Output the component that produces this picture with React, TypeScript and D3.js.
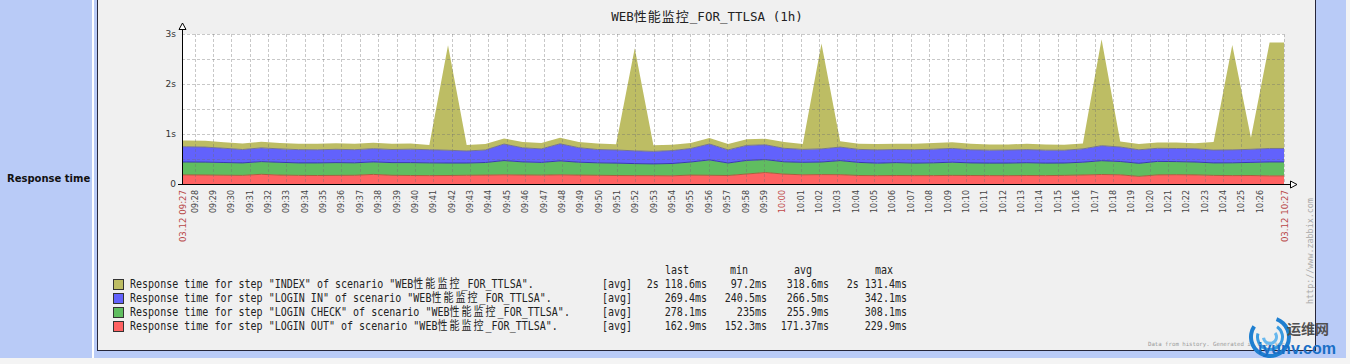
import React from 'react';
import * as d3 from 'd3';

const chartTitle = 'WEB性能监控_FOR_TTLSA (1h)';
const rowLabel = 'Response time';
const startTime = '09:27:19';
const endTime = '10:27:19';
const startLabel = '03.12 09:27';
const endLabel = '03.12 10:27';

const sampleTimes = [
  '09:27:34', '09:28:35', '09:29:36', '09:30:37', '09:31:38', '09:32:39', '09:33:40', '09:34:41', '09:35:42', '09:36:43',
  '09:37:44', '09:38:45', '09:39:46', '09:40:47', '09:41:48', '09:42:49', '09:43:50', '09:44:51', '09:45:52', '09:46:53',
  '09:47:54', '09:48:55', '09:49:56', '09:50:57', '09:51:58', '09:52:59', '09:54:00', '09:55:01', '09:56:02', '09:57:03',
  '09:58:04', '09:59:05', '10:00:06', '10:01:07', '10:02:08', '10:03:09', '10:04:10', '10:05:11', '10:06:12', '10:07:13',
  '10:08:14', '10:09:15', '10:10:16', '10:11:17', '10:12:18', '10:13:19', '10:14:20', '10:15:21', '10:16:22', '10:17:23',
  '10:18:24', '10:19:25', '10:20:26', '10:21:27', '10:22:28', '10:23:29', '10:24:30', '10:25:31', '10:26:32',
];

// milliseconds
const loginOut = [
  182, 180, 175, 172, 194, 178, 172, 170, 172, 174,
  192, 174, 170, 168, 170, 174, 178, 184, 180, 177,
  184, 178, 174, 170, 168, 167, 164, 178, 174, 170,
  200, 229.9, 198, 184, 188, 186, 170, 167, 170, 168,
  168, 172, 170, 168, 167, 170, 168, 172, 180, 190,
  184, 152.3, 182, 186, 182, 172, 168, 170, 162.9,
];
const loginCheck = [
  258, 258, 255, 250, 254, 256, 250, 252, 256, 250,
  250, 254, 258, 255, 250, 246, 252, 285, 262, 255,
  278, 258, 250, 248, 240, 235, 246, 262, 308.1, 250,
  272, 258, 246, 250, 252, 282, 262, 250, 258, 250,
  256, 264, 252, 250, 252, 256, 250, 248, 256, 276,
  266, 262, 270, 262, 258, 250, 256, 262, 278.1,
];
const loginIn = [
  305, 300, 285, 268, 274, 268, 265, 262, 266, 262,
  264, 262, 268, 262, 255, 240.5, 250, 330, 282, 270,
  342.1, 290, 266, 262, 255, 250, 258, 270, 318, 262,
  300, 296, 270, 258, 262, 270, 260, 265, 262, 268,
  272, 276, 262, 258, 260, 262, 258, 255, 266, 300,
  290, 270, 262, 262, 265, 256, 258, 262, 269.4,
];
const indexStep = [
  125, 125, 122, 120, 122, 120, 118, 122, 120, 118,
  120, 115, 112, 97.2, 2100, 122, 118, 112, 115, 118,
  120, 112, 118, 115, 2050, 122, 118, 112, 120, 118,
  122, 120, 126, 108, 2110, 115, 112, 118, 115, 120,
  122, 124, 120, 115, 112, 118, 115, 112, 110, 2131.4,
  112, 118, 115, 118, 112, 160, 2100, 230, 2118.6,
];

const stackKeys = ['out', 'check', 'in', 'index'];
const fillColors: Record<string, string> = { out: '#ff6262', check: '#60bd60', in: '#6262fc', index: '#bdbd64' };
const edgeColors: Record<string, string> = { out: '#a8603c', check: '#3a3ab0', in: '#747494', index: 'none' };

const legendKeys = ['index', 'in', 'check', 'out'];
const legendLabels = [
  'Response time for step "INDEX" of scenario "WEB性能监控_FOR_TTLSA".',
  'Response time for step "LOGIN IN" of scenario "WEB性能监控_FOR_TTLSA".',
  'Response time for step "LOGIN CHECK" of scenario "WEB性能监控_FOR_TTLSA".',
  'Response time for step "LOGIN OUT" of scenario "WEB性能监控_FOR_TTLSA".',
];
const statHeaders = ['last', 'min', 'avg', 'max'];
const lastVals = ['2s 118.6ms', '269.4ms', '278.1ms', '162.9ms'];
const minVals = ['97.2ms', '240.5ms', '235ms', '152.3ms'];
const avgVals = ['318.6ms', '266.5ms', '255.9ms', '171.37ms'];
const maxVals = ['2s 131.4ms', '342.1ms', '308.1ms', '229.9ms'];

const yTicks = [0, 1, 2, 3];
const yTickLabels = ['0', '1s', '2s', '3s'];
const yGrid = [0.5, 1, 1.5, 2, 2.5, 3];

const MONO = "'DejaVu Sans Mono', monospace";
const CJK = "'Noto Sans CJK SC', sans-serif";
const SANS = "'DejaVu Sans', 'Noto Sans', sans-serif";

function parse(s: string) {
  const [h, m, sec] = s.split(':').map(Number);
  return new Date(2014, 2, 12, h, m, sec);
}

function mixed(str: string, cjkSize: number, cjkSpacing: number) {
  return str.split(/([\u4e00-\u9fff]+)/).filter((p) => p.length > 0).map((p, i) =>
    /[\u4e00-\u9fff]/.test(p)
      ? <tspan key={i} fontFamily={CJK} fontSize={cjkSize} letterSpacing={cjkSpacing}>{p}</tspan>
      : <tspan key={i} fontFamily={MONO}>{p}</tspan>
  );
}

export default function App() {
  const t0 = parse(startTime);
  const t1 = parse(endTime);
  const x = d3.scaleTime().domain([t0, t1]).range([182, 1284]);
  const y = d3.scaleLinear().domain([0, 3]).range([184, 34]);

  const rows = sampleTimes.map((s, i) => ({
    t: parse(s), out: loginOut[i], check: loginCheck[i], in: loginIn[i], index: indexStep[i],
  }));
  const padded = [{ ...rows[0], t: t0 }, ...rows, { ...rows[rows.length - 1], t: t1 }];
  const series = d3.stack<any>().keys(stackKeys)(padded as any);
  const area = d3.area<any>()
    .x((d) => x(d.data.t))
    .y0((d) => y(d[0] / 1000))
    .y1((d) => y(d[1] / 1000));
  const topLine = d3.line<any>()
    .x((d) => x(d.data.t))
    .y((d) => y(d[1] / 1000));

  const [px0, px1] = x.range();
  const [py0, py1] = y.range();
  const minuteTicks = d3.timeMinute
    .range(d3.timeMinute.ceil(t0), t1)
    .filter((d) => x(d) > px0 + 8 && x(d) < px1 - 8);
  const fmt = d3.timeFormat('%H:%M');

  const legendTop = 288;
  const rowH = 14;
  const sx = 0.835;
  const statCols = [
    { vals: lastVals, right: 707, head: 689 },
    { vals: minVals, right: 767, head: 748 },
    { vals: avgVals, right: 829, head: 812 },
    { vals: maxVals, right: 907, head: 893 },
  ];

  const swirl = d3.arc<any>();

  return (
    <svg width={1350} height={364} style={{ position: 'absolute', left: 0, top: 0 }}>
      <rect x={0} y={0} width={1350} height={364} fill="#f4f4f4" />
      {/* side panels */}
      <rect x={0} y={0} width={92} height={358} fill="#b9cbf7" />
      <rect x={92} y={0} width={2} height={358} fill="#ffffff" />
      <rect x={94} y={0} width={1252} height={358} fill="#b9cbf7" />
      <rect x={98} y={0} width={1217} height={350} fill="#f0f0f0" />
      <line x1={97.5} y1={0} x2={97.5} y2={351} stroke="#26263a" />
      <line x1={97} y1={350.5} x2={1316} y2={350.5} stroke="#26263a" />
      <line x1={1315.5} y1={0} x2={1315.5} y2={351} stroke="#26263a" />
      <text x={7} y={182} fontFamily={SANS} fontWeight="bold" fontSize={10} fill="#111">{rowLabel}</text>

      {/* title */}
      <text x={707} y={21} textAnchor="middle" fontFamily={MONO} fontSize={12.5} fill="#222">{mixed(chartTitle, 13, 1)}</text>

      {/* plot background */}
      <rect x={px0} y={py1} width={px1 - px0} height={py0 - py1} fill="#ffffff" />

      {/* stacked areas */}
      {series.map((s) => (
        <path key={s.key} d={area(s as any) || ''} fill={fillColors[s.key]} />
      ))}
      {series.filter((s) => edgeColors[s.key] !== 'none').map((s) => (
        <path key={'l' + s.key} d={topLine(s as any) || ''} fill="none" stroke={edgeColors[s.key]} strokeWidth={1} />
      ))}

      {/* grid */}
      <g stroke="#6f6f6f" strokeOpacity={0.38} strokeDasharray="3,2" strokeWidth={1}>
        {yGrid.map((v) => (
          <line key={v} x1={px0} x2={px1} y1={Math.round(y(v)) + 0.5} y2={Math.round(y(v)) + 0.5} />
        ))}
        {minuteTicks.map((d) => (
          <line key={+d} x1={Math.round(x(d)) + 0.5} x2={Math.round(x(d)) + 0.5} y1={py1} y2={py0} />
        ))}
        <line x1={px1 + 0.5} x2={px1 + 0.5} y1={py1} y2={py0} />
      </g>

      {/* axes */}
      <line x1={px0 - 4} x2={px1 + 7} y1={py0 + 0.5} y2={py0 + 0.5} stroke="#000" />
      <line x1={px0 + 0.5} x2={px0 + 0.5} y1={py0 + 1} y2={py1 - 5} stroke="#000" />
      <path d={`M${px0 + 0.5},${py1 - 11} L${px0 + 4},${py1 - 4.5} L${px0 - 3},${py1 - 4.5} Z`} fill="#fff" stroke="#000" />
      <path d={`M${px1 + 13},${py0 + 0.5} L${px1 + 6.5},${py0 - 3} L${px1 + 6.5},${py0 + 4} Z`} fill="#fff" stroke="#000" />

      {/* y labels */}
      {yTicks.map((v, i) => (
        <text key={v} x={176} y={y(v)} dominantBaseline="central" textAnchor="end" fontFamily={SANS} fontSize={9} fill="#333">
          {yTickLabels[i]}
        </text>
      ))}

      {/* x labels */}
      {minuteTicks.map((d) => {
        const label = fmt(d);
        const red = d.getMinutes() === 0;
        return (
          <text key={+d} transform={`translate(${x(d) + 0.5},${py0 + 6}) rotate(-90)`} textAnchor="end"
            dominantBaseline="central" fontFamily={SANS} fontSize={8} fill={red ? '#c04848' : '#444'}>
            {label}
          </text>
        );
      })}
      <text transform={`translate(${px0 + 0.5},${py0 + 6}) rotate(-90)`} textAnchor="end" dominantBaseline="central"
        fontFamily={SANS} fontSize={8.6} fill="#b84848">{startLabel}</text>
      <text transform={`translate(${px1 + 0.5},${py0 + 6}) rotate(-90)`} textAnchor="end" dominantBaseline="central"
        fontFamily={SANS} fontSize={8.6} fill="#b84848">{endLabel}</text>

      {/* legend */}
      {statHeaders.map((h, i) => (
        <text key={h} transform={`translate(${statCols[i].head},${legendTop - rowH}) scale(${sx},1)`} textAnchor="end"
          fontFamily={MONO} fontSize={12} fill="#222">{h}</text>
      ))}
      {legendKeys.map((k, i) => {
        const by = legendTop + i * rowH;
        return (
          <g key={k}>
            <rect x={113.5} y={by - 8.5} width={10} height={10} fill={fillColors[k]} stroke="#333" />
            <text transform={`translate(130,${by}) scale(${sx},1)`} fontFamily={MONO} fontSize={12} fill="#222">
              {mixed(legendLabels[i], 12, 2.4)}
            </text>
            <text transform={`translate(602,${by}) scale(${sx},1)`} fontFamily={MONO} fontSize={12} fill="#222">[avg]</text>
            {statCols.map((c, j) => (
              <text key={j} transform={`translate(${c.right},${by}) scale(${sx},1)`} textAnchor="end"
                fontFamily={MONO} fontSize={12} fill="#222">{c.vals[i]}</text>
            ))}
          </g>
        );
      })}

      {/* footer / watermark */}
      <text transform="translate(1313,304) rotate(-90)" fontFamily={MONO} fontSize={8.4} fill="#a8a8a8">http://www.zabbix.com</text>
      <text x={1148} y={346} fontFamily={MONO} fontSize={5.7} fill="#9a9a9a">Data from history. Generated in 0.17 sec</text>

      <g transform="translate(1270,337)">
        <path d={swirl({ innerRadius: 17, outerRadius: 21, startAngle: 0.35, endAngle: 5.3 }) || ''} fill="#1f7fd0" />
        <path d={swirl({ innerRadius: 11, outerRadius: 14, startAngle: 0.6, endAngle: 5.0 }) || ''} fill="#3a9be0" />
        <path d={swirl({ innerRadius: 5, outerRadius: 8, startAngle: 0.9, endAngle: 4.6 }) || ''} fill="#68b8ee" />
      </g>
      <text x={1287} y={334} fontFamily={CJK} fontWeight="bold" fontSize={14} fill="#505050">运维网</text>
      <text x={1258} y={354} fontFamily="'Liberation Sans', Arial, sans-serif" fontWeight="bold" fontSize={16} fill="#1a6fc6">iyunv.com</text>
    </svg>
  );
}
